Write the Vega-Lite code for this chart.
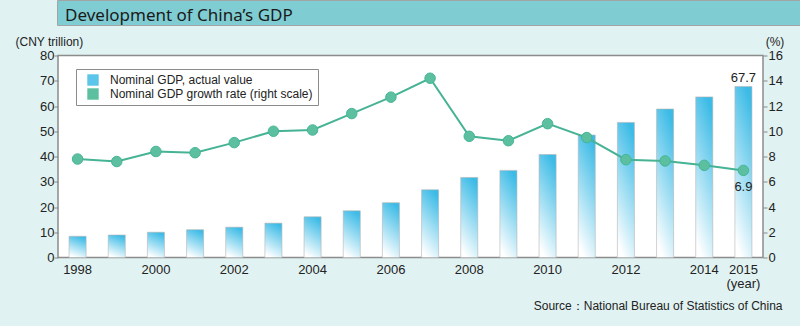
{
  "$schema": "https://vega.github.io/schema/vega-lite/v6.json",
  "background": "#e1f2f2",
  "padding": 0,
  "spacing": 8.5,
  "config": {
    "view": {"stroke": "#8c8c8c", "strokeWidth": 1.5, "fill": "white"},
    "font": "Liberation Sans",
    "axis": {"labelFont": "Liberation Sans", "titleFont": "Liberation Sans", "labelColor": "#222222", "titleColor": "#222222", "titleFontWeight": "normal", "grid": false}
  },
  "vconcat": [
    {
      "width": 800,
      "height": 24,
      "data": {"values": [{"title": "Development of China’s GDP"}]},
      "layer": [
        {
          "mark": {"type": "rect", "color": "#7fcdd2"},
          "encoding": {
            "x": {"datum": 0, "type": "quantitative", "scale": {"domain": [0, 1]}, "axis": null},
            "x2": {"datum": 1},
            "y": {"datum": 0, "type": "quantitative", "scale": {"domain": [0, 1]}, "axis": null},
            "y2": {"datum": 1}
          }
        },
        {
          "mark": {"type": "text", "align": "left", "baseline": "alphabetic", "dx": 7, "dy": -4, "font": "Noto Sans", "fontSize": 17, "color": "#1a1a1a"},
          "encoding": {
            "x": {"datum": 0, "type": "quantitative"},
            "y": {"datum": 0, "type": "quantitative"},
            "text": {"field": "title", "type": "nominal"}
          }
        }
      ]
    },
    {
      "width": 705,
      "height": 202,
      "data": {"values": [
        {"year": 1998, "gdp": 8.4, "growth": 7.8},
        {"year": 1999, "gdp": 8.9, "growth": 7.6},
        {"year": 2000, "gdp": 10.0, "growth": 8.4},
        {"year": 2001, "gdp": 11.0, "growth": 8.3},
        {"year": 2002, "gdp": 12.0, "growth": 9.1},
        {"year": 2003, "gdp": 13.6, "growth": 10.0},
        {"year": 2004, "gdp": 16.1, "growth": 10.1},
        {"year": 2005, "gdp": 18.5, "growth": 11.4},
        {"year": 2006, "gdp": 21.7, "growth": 12.7},
        {"year": 2007, "gdp": 26.8, "growth": 14.2},
        {"year": 2008, "gdp": 31.7, "growth": 9.6},
        {"year": 2009, "gdp": 34.5, "growth": 9.25},
        {"year": 2010, "gdp": 40.8, "growth": 10.6},
        {"year": 2011, "gdp": 48.5, "growth": 9.5},
        {"year": 2012, "gdp": 53.5, "growth": 7.75},
        {"year": 2013, "gdp": 58.8, "growth": 7.65},
        {"year": 2014, "gdp": 63.6, "growth": 7.3},
        {"year": 2015, "gdp": 67.7, "growth": 6.9}
      ]},
      "encoding": {
        "x": {
          "field": "year", "type": "ordinal",
          "scale": {"paddingInner": 0.565, "paddingOuter": 0.2825},
          "axis": {
            "title": "Source：National Bureau of Statistics of China",
            "titleX": 724, "titleY": 51.5, "titleAlign": "right", "titleBaseline": "alphabetic",
            "titleFontSize": 12,
            "labelAngle": 0, "labelFontSize": 13, "labelBaseline": "alphabetic", "labelPadding": 16,
            "labelLineHeight": 14, "labelOverlap": false, "labelFlush": false,
            "ticks": false, "tickSize": 0, "domain": false, "minExtent": 68,
            "labelExpr": "datum.value == 2015 ? ['2015', '(year)'] : (datum.value % 2 == 0 ? datum.label : '')"
          }
        }
      },
      "layer": [
        {
          "encoding": {
            "y": {
              "field": "gdp", "type": "quantitative",
              "scale": {"domain": [0, 80]},
              "axis": {
                "values": [0, 10, 20, 30, 40, 50, 60, 70, 80],
                "title": "(CNY trillion)", "titleAngle": 0, "titleX": -43, "titleY": -14,
                "titleAlign": "left", "titleBaseline": "middle", "titleFontSize": 12,
                "labelFontSize": 13, "labelPadding": 0, "tickSize": 4, "tickColor": "#888888",
                "domain": false, "minExtent": 57
              }
            }
          },
          "layer": [
            {"mark": {"type": "bar", "color": {"gradient": "linear", "x1": 0.65, "y1": 0, "x2": 0.35, "y2": 1, "stops": [{"offset": 0, "color": "#3cbbe6"}, {"offset": 1, "color": "#ffffff"}]}, "stroke": "#b4b4b4", "strokeWidth": 0.6}},
            {
              "transform": [{"filter": "datum.year == 2015"}],
              "mark": {"type": "text", "baseline": "alphabetic", "dy": -5, "fontSize": 13, "color": "#222222"},
              "encoding": {"text": {"field": "gdp", "type": "quantitative", "format": ".1f"}}
            }
          ]
        },
        {
          "encoding": {
            "y": {
              "field": "growth", "type": "quantitative",
              "scale": {"domain": [0, 16]},
              "axis": {
                "orient": "right",
                "values": [0, 2, 4, 6, 8, 10, 12, 14, 16],
                "title": "(%)", "titleAngle": 0, "titleX": 11.5, "titleY": -14,
                "titleAlign": "center", "titleBaseline": "middle", "titleFontSize": 12,
                "labelFontSize": 13, "labelPadding": 1, "tickSize": 4, "tickColor": "#888888",
                "domain": false
              }
            }
          },
          "layer": [
            {"mark": {"type": "line", "strokeWidth": 2, "color": "#45b394"}},
            {
              "mark": {"type": "circle", "size": 110, "opacity": 1, "stroke": "#46b596", "strokeWidth": 1},
              "encoding": {
                "color": {
                  "datum": "Nominal GDP growth rate (right scale)",
                  "scale": {"domain": ["Nominal GDP, actual value", "Nominal GDP growth rate (right scale)"], "range": ["#5cc5ea", "#5cc0a0"]},
                  "legend": {
                    "title": null, "orient": "none", "legendX": 18, "legendY": 68,
                    "fillColor": "white", "strokeColor": "#8c8c8c", "padding": 5,
                    "labelFontSize": 12, "labelColor": "#222222", "labelFont": "Liberation Sans", "labelLimit": 320,
                    "symbolType": "square", "symbolSize": 130, "symbolOffset": 6, "labelOffset": 11, "rowPadding": 2,
                    "symbolStrokeWidth": 0
                  }
                }
              }
            },
            {
              "transform": [{"filter": "datum.year == 2015"}],
              "mark": {"type": "text", "baseline": "alphabetic", "dy": 20.5, "fontSize": 13, "color": "#222222"},
              "encoding": {"text": {"field": "growth", "type": "quantitative", "format": ".1f"}}
            }
          ]
        }
      ],
      "resolve": {"scale": {"y": "independent"}}
    }
  ]
}
